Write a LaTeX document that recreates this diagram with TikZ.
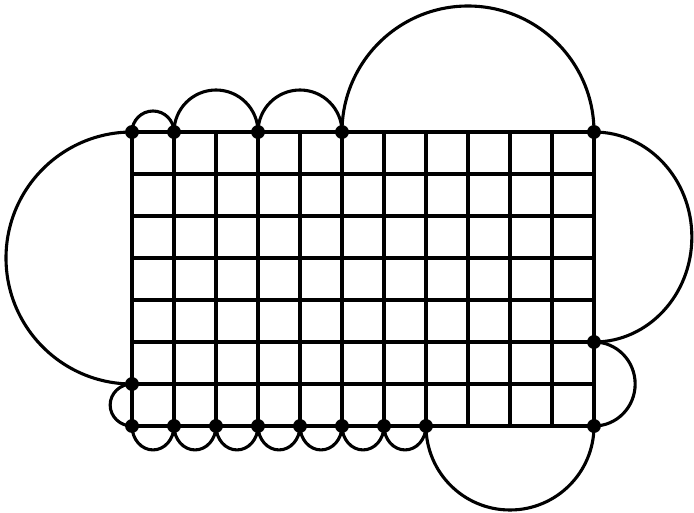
\documentclass[tikz,border=0pt]{standalone}
\usetikzlibrary{positioning}
\begin{document}
\begin{tikzpicture}[
    gridline/.style={draw=black, line width=2.4pt},
    loop/.style={draw=black, line width=2.1pt},
    vertex/.style={circle, fill=black, inner sep=0pt, minimum size=0.33cm}
    ]
    \useasboundingbox (-3.143,3.143) rectangle (13.381,-9.048);
    \draw[gridline] (0,-7) grid (11,0);

    \node[vertex] (t0) at (0,0) {};
    \node[vertex] (t1) at (1,0) {};
    \node[vertex] (t3) at (3,0) {};
    \node[vertex] (t5) at (5,0) {};
    \node[vertex] (t11) at (11,0) {};
    \node[vertex] (r5) at (11,-5) {};
    \node[vertex] (r7) at (11,-7) {};
    \node[vertex] (l6) at (0,-6) {};
    \foreach \i in {0,...,7}
        \node[vertex] (b\i) at (\i,-7) {};

    \draw[loop] (t0.center) arc[start angle=180, end angle=0, radius=0.5];
    \draw[loop] (t1.center) arc[start angle=180, end angle=0, radius=1];
    \draw[loop] (t3.center) arc[start angle=180, end angle=0, radius=1];
    \draw[loop] (t5.center) arc[start angle=180, end angle=0, radius=3];
    \draw[loop] (t11.center) arc[start angle=90, end angle=-90, x radius=2.33, y radius=2.5];
    \draw[loop] (r5.center) arc[start angle=90, end angle=-90, x radius=0.98, y radius=1];
    \draw[loop] (b7.center) arc[start angle=180, end angle=360, radius=2];
    \foreach \i in {0,...,6}
        \draw[loop] (b\i.center) arc[start angle=180, end angle=360, x radius=0.5, y radius=0.57];
    \draw[loop] (l6.center) arc[start angle=90, end angle=270, x radius=0.52, y radius=0.5];
    \draw[loop] (t0.center) arc[start angle=90, end angle=270, radius=3];
\end{tikzpicture}
\end{document}
